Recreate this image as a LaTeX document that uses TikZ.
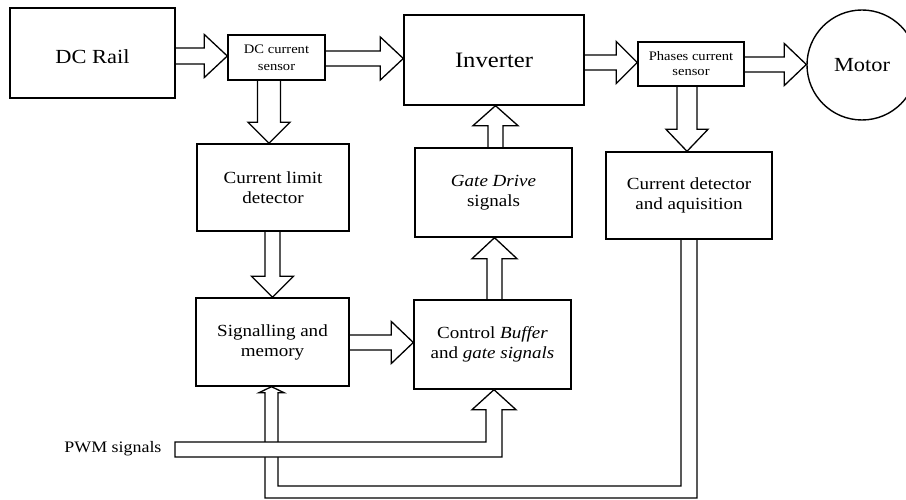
\documentclass[tikz,border=0pt]{standalone}
\usepackage{fontspec}
\setmainfont{Liberation Serif}[FakeStretch=1.12]
\usetikzlibrary{calc}
\tikzset{
  blk/.style={draw, line width=1.4pt, inner sep=0pt, align=center, font=\fontsize{17}{20}\selectfont},
  sens/.style={blk, font=\fontsize{13}{17}\selectfont},
  big/.style={font=\fontsize{20}{24}\selectfont},
  barrow/.style={draw, line width=1.3pt, line join=miter},
}
% horizontal block arrow to the right: tail, tip, shaft half, head half, head length
\newcommand\arrR[5]{\draw[barrow] let \p1=(#1), \p2=(#2) in
  (\x1,\y1+#3) -- (\x2-#5,\y1+#3) -- (\x2-#5,\y1+#4) -- (\x2,\y1) --
  (\x2-#5,\y1-#4) -- (\x2-#5,\y1-#3) -- (\x1,\y1-#3);}
% vertical block arrow downwards
\newcommand\arrD[5]{\draw[barrow] let \p1=(#1), \p2=(#2) in
  (\x1-#3,\y1) -- (\x1-#3,\y2+#5) -- (\x1-#4,\y2+#5) -- (\x1,\y2) --
  (\x1+#4,\y2+#5) -- (\x1+#3,\y2+#5) -- (\x1+#3,\y1);}
% vertical block arrow upwards
\newcommand\arrU[5]{\draw[barrow] let \p1=(#1), \p2=(#2) in
  (\x1-#3,\y1) -- (\x1-#3,\y2-#5) -- (\x1-#4,\y2-#5) -- (\x1,\y2) --
  (\x1+#4,\y2-#5) -- (\x1+#3,\y2-#5) -- (\x1+#3,\y1);}
\begin{document}
\begin{tikzpicture}[x=1pt,y=-1pt]
\useasboundingbox (0,0) rectangle (906,500);
\fill[white] (0,0) rectangle (906,500);
\clip (0,0) rectangle (906,500);

% blocks
\node[blk, big, minimum width=165pt, minimum height=90pt, text height=21pt, text depth=0pt] (rail) at (92.5,53) {DC Rail};
\node[sens, minimum width=97pt, minimum height=45pt] (dcs) at (276.5,57.5) {DC current\\sensor};
\node[blk, font=\fontsize{22}{26}\selectfont, minimum width=180pt, minimum height=90pt] (inv) at (494,60) {Inverter};
\node[sens, minimum width=106pt, minimum height=44pt, font=\fontsize{13}{15}\selectfont] (phs) at (691,64) {Phases current\\sensor};
\node[draw, circle, line width=1.4pt, minimum size=110pt, inner sep=0pt, big] (motor) at (862,65) {Motor};
\node[blk, minimum width=152pt, minimum height=87pt] (cld) at (273,187.5) {Current limit\\detector};
\node[blk, minimum width=157pt, minimum height=89pt] (gate) at (493.5,192.5) {\textit{Gate Drive}\\signals};
\node[blk, minimum width=166pt, minimum height=87pt] (cda) at (689,195.5) {Current detector\\and aquisition};
\node[blk, minimum width=153pt, minimum height=88pt] (sig) at (272.5,342) {Signalling and\\memory};
\node[blk, minimum width=157pt, minimum height=89pt] (ctrl) at (492.5,344.5) {Control \textit{Buffer}\\and \textit{gate signals}};
\node[font=\fontsize{16}{19}\selectfont, anchor=east] (pwm) at (165,449) {PWM signals};
\coordinate (pwmtail) at ($(pwm.east)+(10,0.5)$);
\coordinate (fbbottom) at (0,492);

% block arrows
\arrR{$(rail.east)+(0,3)$}{dcs.west}{8pt}{21.5pt}{23pt}
\arrR{$(dcs.east)+(0,1)$}{inv.west}{7.5pt}{21.5pt}{23pt}
\arrR{$(inv.east)+(0,2.5)$}{phs.west}{7.5pt}{21pt}{21pt}
\arrR{$(phs.east)+(0,0.5)$}{motor.west}{7.5pt}{21pt}{22pt}
\arrR{$(sig.east)+(0,0.5)$}{ctrl.west}{7.5pt}{21pt}{22pt}
\arrD{$(dcs.south)+(-7.5,0)$}{cld.north}{11.5pt}{21pt}{21pt}
\arrD{$(cld.south)+(-0.5,0)$}{sig.north}{7.5pt}{21pt}{21pt}
\arrD{$(phs.south)+(-4,0)$}{cda.north}{10pt}{21pt}{22pt}
\arrU{$(gate.north)+(2,0)$}{inv.south}{7.5pt}{22.5pt}{20pt}
\arrU{$(ctrl.north)+(2,0)$}{gate.south}{7.5pt}{22.5pt}{21pt}

% feedback from current detector to signalling and memory
\draw[barrow] let \p1=(cda.south), \p2=($(sig.south)+(-1,0)$), \p3=(fbbottom) in
  (\x1-8pt,\y1) -- (\x1-8pt,\y3+6pt) -- (\x2+6.5pt,\y3+6pt) -- (\x2+6.5pt,\y2-6pt) --
  (\x2+12.5pt,\y2-6pt) -- (\x2,\y2) -- (\x2-12.5pt,\y2-6pt) -- (\x2-6.5pt,\y2-6pt) --
  (\x2-6.5pt,\y3-6pt) -- (\x1+8pt,\y3-6pt) -- (\x1+8pt,\y1);

% PWM signals elbow arrow into control block
\draw[barrow, fill=white] let \p1=(pwmtail), \p2=($(ctrl.south)+(1.5,0)$) in
  (\x1,\y1+7.5pt) -- (\x2-8pt,\y1+7.5pt) -- (\x2-8pt,\y2-20pt) -- (\x2-22pt,\y2-20pt) --
  (\x2,\y2) -- (\x2+22pt,\y2-20pt) -- (\x2+8pt,\y2-20pt) -- (\x2+8pt,\y1-7.5pt) --
  (\x1,\y1-7.5pt) -- cycle;
\end{tikzpicture}
\end{document}
